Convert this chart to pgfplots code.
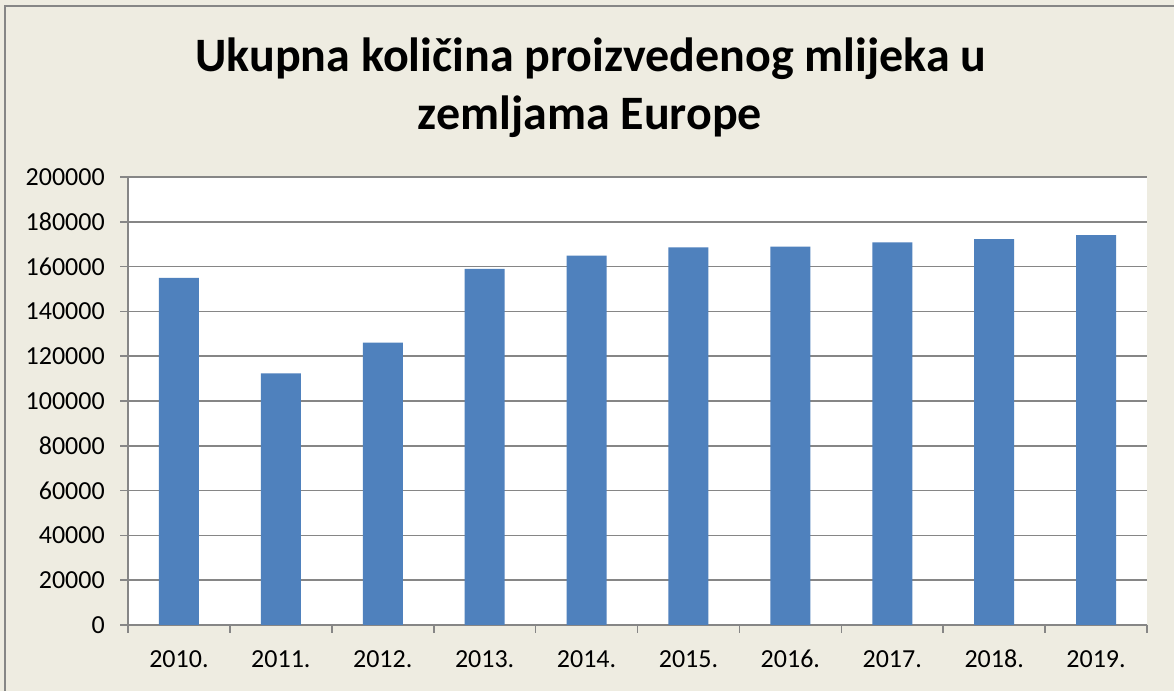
\documentclass[border=0pt]{standalone}
\usepackage{pgfplots}
\pgfplotsset{compat=1.18}
\usepackage{fontspec}
\setmainfont{Carlito}
\definecolor{bgtan}{HTML}{EEECE1}
\definecolor{gridgray}{HTML}{868686}
\definecolor{barblue}{HTML}{4F81BD}
\begin{document}
\begin{tikzpicture}
\path[use as bounding box, fill=bgtan] (0,0) rectangle (880.5pt,518.25pt);
\draw[gridgray, line width=1.2pt] (3.75pt,0) -- (3.75pt,513.75pt) -- (880.5pt,513.75pt);
\node[anchor=base, font=\fontsize{36}{42}\selectfont\bfseries] at (443.25pt,464.25pt) {Ukupna količina proizvedenog mlijeka u};
\node[anchor=base, font=\fontsize{36}{42}\selectfont\bfseries] at (442.5pt,420.75pt) {zemljama Europe};
\begin{axis}[
  at={(96pt,49.5pt)}, anchor=south west,
  scale only axis, width=764.25pt, height=336pt,
  xmin=-0.5, xmax=9.5, ymin=0, ymax=200000,
  ytick={0,20000,40000,60000,80000,100000,120000,140000,160000,180000,200000},
  yticklabels={0,20000,40000,60000,80000,100000,120000,140000,160000,180000,200000},
  scaled y ticks=false,
  axis background/.style={fill=white},
  axis x line*=bottom, axis y line*=left,
  axis line style={gridgray, line width=1.2pt},
  ymajorgrids, major grid style={gridgray, line width=1.2pt},
  tick align=outside,
  major tick length=6pt, minor tick length=6pt,
  tick style={gridgray, line width=1.2pt},
  xtick={0,1,2,3,4,5,6,7,8,9},
  xticklabels={2010.,2011.,2012.,2013.,2014.,2015.,2016.,2017.,2018.,2019.},
  x tick style={draw=none},
  minor xtick={-0.5,0.5,1.5,2.5,3.5,4.5,5.5,6.5,7.5,8.5,9.5},
  minor x tick style={draw=gridgray, line width=1.2pt},
  tick label style={font=\fontsize{19.5}{23}\selectfont, inner sep=0pt},
  x tick label style={anchor=base, yshift=-26.25pt},
  y tick label style={anchor=east, xshift=-11.25pt},
]
\addplot[ybar, bar width=30pt, fill=barblue, draw=none] coordinates {
(0,155000) (1,112300) (2,126100) (3,159000) (4,164900)
(5,168600) (6,168900) (7,170800) (8,172300) (9,174100)};
\end{axis}
\end{tikzpicture}
\end{document}
